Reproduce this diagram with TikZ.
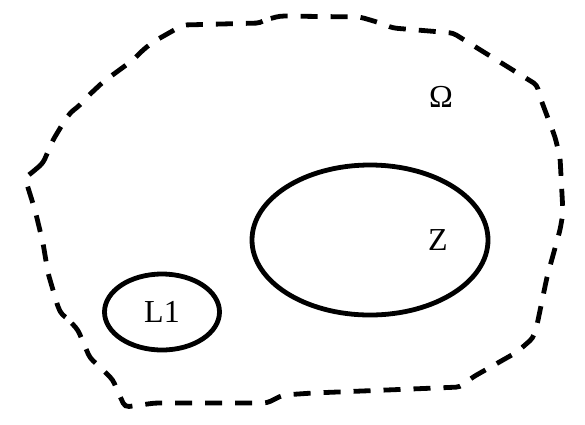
\documentclass[tikz,border=0pt]{standalone}
\usepackage{fontspec}
\setmainfont{Liberation Serif}
\usetikzlibrary{shapes.geometric}
\tikzset{
  domainLine/.style={line width=4.8pt, dash pattern=on 17pt off 13pt, rounded corners=4pt},
  setEllipse/.style={draw, ellipse, line width=4.8pt, inner sep=0pt},
  setLabel/.style={font=\fontsize{32}{36}\selectfont}
}
\begin{document}
\begin{tikzpicture}[x=1pt, y=-1pt]
  \useasboundingbox (0,0) rectangle (585,424);
  % outer domain boundary
  \draw[domainLine] (35,170) -- (43,163) -- (53,140) -- (62,125) -- (70,113) -- (80,105) -- (87,97)
    -- (103,82) -- (133,60) -- (143,50) -- (153,42) -- (183,25) -- (260,23) -- (265,20) -- (280,16)
    -- (360,17) -- (377,22) -- (393,28) -- (453,33) -- (537,85) -- (540,97) -- (555,137) -- (560,157)
    -- (563,213) -- (560,230) -- (547,277) -- (537,325) -- (533,338) -- (517,352) -- (473,377)
    -- (460,387) -- (313,393) -- (283,395) -- (267,403) -- (155,403) -- (125,407) -- (117,390)
    -- (113,380) -- (100,367) -- (90,358) -- (83,342) -- (78,330) -- (67,318) -- (62,315) -- (58,307)
    -- (48,273) -- (43,243) -- (35,210) -- (25,178) -- cycle;
  \node[setLabel] (omega) at (441,97) {Ω};
  % inner sets
  \node[setEllipse, minimum width=236pt, minimum height=150pt] (zset) at (370,240) {};
  \node[setLabel] (zlabel) at (438,240) {Z};
  \node[setEllipse, setLabel, minimum width=115pt, minimum height=76pt] (lone) at (162,312) {L1};
\end{tikzpicture}
\end{document}
